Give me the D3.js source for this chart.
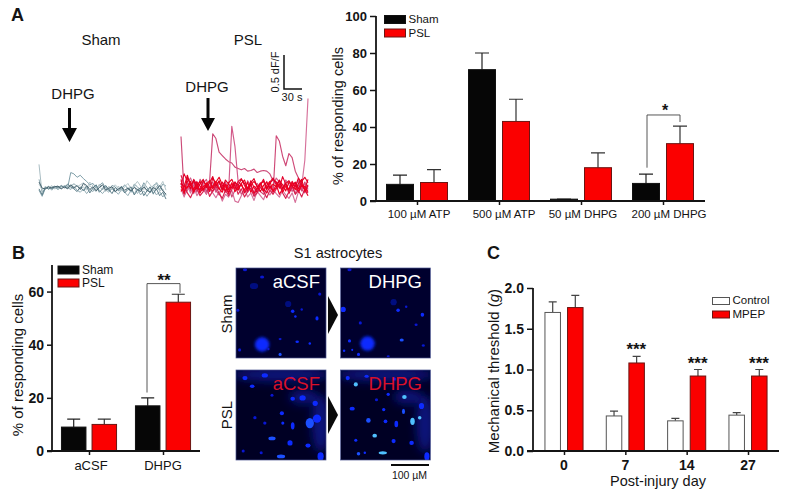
<!DOCTYPE html>
<html><head><meta charset="utf-8">
<script src="https://cdn.jsdelivr.net/npm/d3@7"></script>
<style>
html,body{margin:0;padding:0;background:#fff}
svg{display:block}
text{font-family:"Liberation Sans",Arial,sans-serif;fill:#141414}
</style></head><body><svg id="c" width="797" height="496"></svg>
<script>
// Panel A bars
const catsA=["100 µM ATP","500 µM ATP","50 µM DHPG","200 µM DHPG"];
const shamA=[9,71,1,9.5], shamATop=[14,80,1,14.5];
const pslA=[10,43,18,31], pslATop=[17,55,26,40.5];
const ticksA=[0,20,40,60,80,100];
// Panel B bars
const catsB=["aCSF","DHPG"];
const shamB=[9,17], shamBTop=[12,20];
const pslB=[10,56], pslBTop=[12,59];
const ticksB=[0,20,40,60];
// Panel C bars
const catsC=["0","7","14","27"];
const ctrlC=[1.70,0.43,0.37,0.44], ctrlCTop=[1.83,0.49,0.40,0.47];
const mpepC=[1.76,1.08,0.92,0.92], mpepCTop=[1.91,1.16,1.00,1.00];
const starsC=["","***","***","***"];
const ticksC=[0,0.5,1,1.5,2];
// Calcium traces, dF/F x 100, one sample per 5 s
const shamTraces=[
[34,-10,2,-3,1,-2,0,2,-1,1,3,5,2,-2,1,-4,3,-2,-6,1,-3,2,-5,-1,-7,2,-3,-8,0,-4,3,-9,-2,4,-6,-1,-10,2,-5,-2,-12],
[-4,-13,-1,1,-2,0,-3,1,2,-1,22,20,15,18,13,9,4,6,-1,3,7,-1,-4,3,1,-5,-2,4,-2,-7,5,1,-4,7,0,-8,3,6,-3,5,2],
[12,-6,-2,2,-4,1,2,-2,3,0,-3,2,-4,-7,-2,-9,-3,-6,2,-4,-9,-3,-7,-2,-5,-10,-3,-7,-12,-4,-9,-2,-11,-5,-13,-6,-3,-11,-6,-14,-8],
[5,-3,1,-1,3,-2,1,-1,2,3,-1,6,1,4,7,-2,8,2,-4,5,0,-6,2,-3,4,-1,-5,1,6,-2,3,9,2,-3,10,4,-2,8,1,9,-4],
[-2,-11,0,-2,0,2,-1,3,0,5,1,-2,-6,1,-5,2,-8,-1,4,-7,-2,3,-3,-9,0,-4,2,-8,-3,1,-11,-4,0,-12,-5,1,-9,-2,-12,-7,-17],
[8,-1,-2,1,-1,1,2,-2,1,-2,4,-1,3,-3,6,3,-3,1,-5,0,4,-4,-1,1,-6,-2,0,-4,-1,-5,0,-3,-6,1,-4,-7,0,-3,3,-5,-10]];
const pslTraces=[
[75,-9,6,-5,9,-7,12,3,-6,8,79,72,52,47,42,38,36,30,28,26,28,24,25,27,22,24,25,24,20,10,8,2,-4,5,-6,3,-9,4,-5,8,-3],
[10,-3,8,14,2,9,-5,6,12,-2,4,-7,6,1,8,-4,90,60,8,4,-6,10,2,-8,6,0,-5,9,-3,2,14,8,-2,11,4,-6,3,10,-4,6,1],
[6,-12,-4,3,-9,5,-6,-2,-10,2,8,-4,-11,3,-7,2,-14,-4,5,-10,-3,-7,4,-12,-3,-6,-10,-2,3,-8,76,68,46,32,50,44,24,14,-3,-8,2],
[-2,-14,3,-8,2,-12,-5,3,-9,-3,-8,-15,-6,-20,-10,-14,-4,-20,-22,-12,-3,-14,-8,-19,-6,-12,-18,-5,-11,-3,-9,-14,-4,-11,-16,-8,-22,-6,2,40,131],
[4,20,9,-2,12,4,-4,10,3,-6,14,5,-3,8,1,-9,6,-2,9,13,3,-5,10,0,-7,4,12,-1,6,12,8,-1,16,5,-3,9,1,14,5,-2,12],
[12,-6,1,6,-3,8,2,-5,7,0,-6,3,10,-4,4,-7,1,8,-2,6,-8,0,5,-9,-1,7,-3,-8,2,-5,4,-10,-2,6,-9,1,7,-7,3,-3,-12],
[18,4,-8,-15,-4,-1,-12,-6,2,-13,-5,2,-9,-16,-4,-12,-3,5,-10,-2,-14,-6,-1,-13,-8,1,-6,-15,-4,-10,-2,6,-8,-16,-6,1,-10,-4,-14,-2,-8],
[2,-9,14,6,-7,3,9,-3,4,10,-2,8,15,4,-5,7,12,1,-4,6,11,-2,4,9,2,-6,3,8,-1,5,1,10,4,-5,8,2,-3,6,12,-6,4],
[6,1,18,3,10,-2,5,12,0,7,16,2,9,-3,11,5,-1,8,3,12,6,-2,7,13,1,5,9,-3,8,14,4,11,-1,6,10,3,8,-2,9,15,7],
[-6,3,-1,9,-5,4,-8,1,6,-4,2,9,-2,-7,5,-3,7,-6,1,4,-4,8,-7,2,-2,6,-5,3,9,-6,0,5,-7,2,-3,7,-1,-5,4,1,-6]];
// Microscopy spots: [x%, y%, rx%, ry%, level]
const imgShamA=[[29,85,7,7,2],[63,48,1.7,1.7,2],[66,54,1.2,1.2,2],[2,47,1.5,1.5,1],[90,56,1.5,2,2],[68,82,1.7,1.2,2],[49,96,1.5,1.5,3],[82,84,1.2,1.2,2],[49,79,1.5,1,1],[4,91,1.5,1.5,1],[73,46,1.2,1.2,1],[93,29,1.5,1.5,1],[10,2,2,1.5,1],[29,10,2,1.5,1],[36,90,1.2,1.2,1],[58,40,3,3,0],[20,20,4,3,0]];
const imgShamD=[[30,84,7,7,2],[3,46,2.5,2.5,2],[64,47,1.7,1.7,2],[91,52,1.7,2,2],[68,80,2,1.5,3],[22,61,1.5,1.5,1],[10,81,1.5,1.5,2],[4,92,1.2,1.2,2],[20,96,1.5,1.5,2],[13,91,1,1,2],[84,63,1.5,1.2,1],[73,43,1.2,1.2,1],[59,38,3,3,0],[53,98,1.5,1,1],[92,86,1.5,1.2,1],[10,2,2,1.5,1]];
const imgPslA=[[10,9,2.5,2,2],[32,6,3,2,2],[18,18,2.2,1.7,2],[63,32,2.2,2,2],[74,31,3,2.5,2],[51,48,2,2,2],[63,62,1.8,3.5,2],[40,76,3.5,1.8,3],[60,81,2.5,2.5,2],[82,59,4,5,3],[90,54,4,4,2],[50,96,4,1.8,3],[80,84,2.5,2,2],[21,53,1.6,1.6,1],[32,59,1.6,1.6,1],[52,59,1.5,1.5,2],[88,37,2.5,2.5,2],[94,96,3,4,2],[40,28,1.5,1.5,1],[62,9,2,1.5,1],[8,90,1.5,1.5,1],[28,92,1.5,1.5,1]];
const imgPslD=[[17,16,2,2,4],[8,9,2,2,2],[71,30,2.2,2,4],[13,43,2.5,1.8,2],[31,56,2.2,2.2,3],[50,57,1.8,1.8,2],[38,73,2.2,1.8,4],[62,60,1.8,3.2,2],[70,46,1.5,2.5,3],[80,57,2.2,3.5,4],[88,53,1.7,1.7,4],[59,79,2,2,2],[79,81,2.2,2,2],[47,92,4,1.6,4],[20,93,1.7,1.7,3],[27,92,1.2,1.2,2],[53,27,1.6,1.6,2],[29,7,2,1.5,2],[48,44,1.6,1.6,2],[17,78,1.5,1.5,2],[90,40,2.5,3,2],[96,96,2.5,4,2],[40,33,1.5,1.5,1],[60,10,2,1.5,1]];
const hazePsl=[[50,5,55,8],[94,60,10,32],[75,30,16,8]];

const svg=d3.select("#c");
const RED="#fb0000",RIM="#6b1512",INK="#141414";
const defs=svg.append("defs");
[["b02",0.35],["b05",0.6],["b1",1.8],["b5",5]].forEach(([id,s])=>{
  defs.append("filter").attr("id",id).attr("x","-60%").attr("y","-60%").attr("width","220%").attr("height","220%")
    .append("feGaussianBlur").attr("stdDeviation",s);
});
function label(x,y,t,size,opt={}){
  const s=svg.append("text").attr("x",x).attr("y",y).attr("font-size",size).text(t)
    .attr("text-anchor",opt.anchor||"middle");
  if(opt.bold)s.attr("font-weight","bold");
  if(opt.fill)s.style("fill",opt.fill);
  if(opt.rot)s.attr("transform",`rotate(-90,${x},${y})`);
  return s;
}
function barPanel(o){
  const g=svg.append("g");
  const y=d3.scaleLinear().domain(o.dom).range(o.yr);
  const x=d3.scalePoint().domain(o.cats).range(o.xr);
  const yAxis=d3.axisLeft(y).tickValues(o.ticks).tickSize(o.tl).tickFormat(o.fmt);
  const xAxis=d3.axisBottom(x).tickSize(4).tickFormat("");
  const bars=(vals,tops,off,fill,stroke,err)=>{
    o.cats.forEach((c,i)=>{
      const cx=x(c)+off;
      g.append("path").attr("d",`M${cx},${y(vals[i])}V${y(tops[i])}M${cx-o.cap},${y(tops[i])}H${cx+o.cap}`)
        .attr("stroke",err).attr("stroke-width",1.2).attr("fill","none");
      g.append("rect").attr("x",cx-o.bw/2).attr("width",o.bw).attr("y",y(vals[i])).attr("height",y(0)-y(vals[i]))
        .attr("fill",fill).attr("stroke",stroke).attr("stroke-width",1);
    });
  };
  bars(o.a,o.aTop,-o.off,o.aFill,o.aRim,o.aErr);
  bars(o.b,o.bTop,o.off,RED,RIM,o.bErr);
  const ga=g.append("g").attr("transform",`translate(${o.xAxisX},0)`).call(yAxis);
  const gb=g.append("g").attr("transform",`translate(0,${y(0)})`).call(xAxis);
  ga.select(".domain").attr("d",`M0,${o.yr[1]}V${y(0)+1}`);
  gb.select(".domain").attr("d",`M${o.axL},0H${o.axR}`);
  [ga,gb].forEach(s=>{s.selectAll(".domain").attr("stroke",INK).attr("stroke-width",1.8);
    s.selectAll("line").attr("stroke",INK).attr("stroke-width",1.5);});
  ga.selectAll("text").attr("font-size",o.tickSize).attr("font-weight","bold").style("font-family",'"Liberation Sans"').style("fill",INK);
  return {x,y};
}
function legend(x,y1,y2,h,w,names,fills,rims,size){
  [y1,y2].forEach((yy,i)=>{
    svg.append("rect").attr("x",x).attr("y",yy).attr("width",w).attr("height",h).attr("fill",fills[i]).attr("stroke",rims[i]);
    label(x+w+3,yy+h-0.5,names[i],size,{anchor:"start"});
  });
}
function bracket(x1,x2,yl,yt,yr){
  svg.append("path").attr("d",`M${x1},${yl}V${yt}H${x2}V${yr}`).attr("fill","none").attr("stroke","#444").attr("stroke-width",0.9);
}

// ---- Panel A bars
const A=barPanel({dom:[0,100],yr:[201,16],xr:[417,663],cats:catsA,ticks:ticksA,tl:6,tickSize:13,fmt:d=>d,
  a:shamA,aTop:shamATop,b:pslA,bTop:pslATop,aFill:"#060606",aRim:"#111",aErr:"#222",bErr:"#333",
  bw:27,off:17,cap:7,xAxisX:376,axL:370,axR:705});
const shiftA=[2,5,2,6];
catsA.forEach((c,i)=>label(A.x(c)+shiftA[i],218,c,11.5));
label(343,116,"% of responding cells",14.5,{rot:true});
legend(384.5,15.5,29,8,21,["Sham","PSL"],["#060606",RED],["#111",RIM],11.5);
bracket(A.x(catsA[3])-16,A.x(catsA[3])+17,A.y(18),A.y(46.5),A.y(42.7));
label(665,116,"*",16,{bold:true});

// ---- Panel B bars
const B=barPanel({dom:[0,70],yr:[451,265],xr:[89,163],cats:catsB,ticks:ticksB,tl:5,tickSize:14,fmt:d=>d,
  a:shamB,aTop:shamBTop,b:pslB,bTop:pslBTop,aFill:"#060606",aRim:"#111",aErr:"#222",bErr:"#333",
  bw:24.5,off:15.3,cap:6.5,xAxisX:52,axL:47,axR:200});
catsB.forEach(c=>label(B.x(c)+(c==="aCSF"?2:0),470,c,13));
label(23,365,"% of responding cells",15,{rot:true});
legend(58,266,279,8,21,["Sham","PSL"],["#060606",RED],["#111",RIM],12);
bracket(147,180,B.y(22),B.y(63),B.y(59.5));
label(164,286,"**",17,{bold:true});

// ---- Panel C bars
const C=barPanel({dom:[0,2],yr:[451,288],xr:[564,748],cats:catsC,ticks:ticksC,tl:6,tickSize:14,fmt:d3.format(".1f"),
  a:ctrlC,aTop:ctrlCTop,b:mpepC,bTop:mpepCTop,aFill:"#fff",aRim:"#555",aErr:"#444",bErr:"#444",
  bw:15.5,off:11.3,cap:4,xAxisX:533,axL:527,axR:779});
catsC.forEach(c=>label(C.x(c),470,c,14,{bold:true}));
label(658,486,"Post-injury day",14.5);
const yl=label(499,371,"",15,{rot:true});
yl.append("tspan").text("Mechanical threshold (");
yl.append("tspan").attr("font-style","italic").text("g");
yl.append("tspan").text(")");
legend(712.5,297.5,311,7,17,["Control","MPEP"],["#fff",RED],["#555",RIM],11.5);
catsC.forEach((c,i)=>label(C.x(c)+11,C.y(mpepCTop[i])-1,starsC[i],17,{bold:true}));

// ---- Traces
const tX=d3.scaleLinear().domain([0,200]);
const tY=d3.scaleLinear().domain([0,0.5]).range([187.5,153.5]);
function drawTraces(data,x0,colors,w){
  const xs=tX.copy().range([x0,x0+127]);
  const line=d3.line().x((d,i)=>xs(i*5)).y(d=>tY(d/100)).curve(d3.curveLinear);
  const g=svg.append("g").attr("filter","url(#b02)");
  data.forEach((t,i)=>g.append("path").attr("d",line(t)).attr("fill","none")
    .attr("stroke",colors[i%colors.length]).attr("stroke-width",w).attr("stroke-linejoin","round"));
}
drawTraces(shamTraces,39,["#a8bcc2","#7f9ea8","#94adb5","#b5c6ca","#5f7f8a","#46626e"],1);
drawTraces(pslTraces,181,["#cc4a78","#d25a8a","#cf4a78","#d6709a","#e3002c","#ea0028","#d8204f","#e8001e","#e00024","#f00020"],1.15);

label(101,45,"Sham",15);
label(248,45,"PSL",15);
label(73,99,"DHPG",15);
label(207,92,"DHPG",15);
function arrow(x,y0,y1,yTip,hw){
  svg.append("path").attr("d",`M${x-1.5},${y0}H${x+1.5}V${y1}H${x+hw}L${x},${yTip}L${x-hw},${y1}H${x-1.5}Z`).attr("fill","#050505");
}
arrow(69.5,108,128,142,7.5);
arrow(208,98,118,131,7);
svg.append("path").attr("d","M284,55V89H302").attr("fill","none").attr("stroke","#111").attr("stroke-width",1.5);
label(279,72,"0.5 dF/F",11,{rot:true});
label(292,101,"30 s",11);

// ---- Micrographs
const pct=d3.scaleLinear().domain([0,100]).range([0,90]);
const spotColor=["#060f80","#0818d0","#0c2cff","#1a50ff","#50c0ff"];
function micro(id,x,y,spots,haze,base,txt,col){
  const cp=defs.append("clipPath").attr("id",id);
  cp.append("rect").attr("width",90).attr("height",90);
  const g=svg.append("g").attr("transform",`translate(${x},${y})`);
  const inner=g.append("g").attr("clip-path",`url(#${id})`);
  inner.append("rect").attr("width",90).attr("height",90).attr("fill",base);
  if(haze){
    const hz=inner.append("g").attr("filter","url(#b5)");
    haze.forEach(h=>hz.append("ellipse").attr("cx",pct(h[0])).attr("cy",pct(h[1])).attr("rx",pct(h[2])).attr("ry",pct(h[3])).attr("fill","#0a18a0").attr("opacity",0.7));
  }
  const sg=inner.append("g").attr("filter","url(#b05)");
  spots.forEach(s=>{
    const big=s[2]>6;
    const e=sg.append("ellipse").attr("cx",pct(s[0])).attr("cy",pct(s[1])).attr("rx",pct(s[2])*1.15).attr("ry",pct(s[3])*1.15).attr("fill",spotColor[s[4]]);
    if(big){e.attr("filter","url(#b1)");}
  });
  g.append("rect").attr("width",90).attr("height",90).attr("fill","none").attr("stroke","#4a5590").attr("stroke-width",0.7);
  label(x+(txt==="aCSF"?84:81.5),y+20,txt,18.5,{anchor:"end",fill:col});
}
micro("m1",236,268,imgShamA,null,"#00002e","aCSF","#fff");
micro("m2",340.5,268,imgShamD,null,"#00002e","DHPG","#fff");
micro("m3",236,370,imgPslA,hazePsl,"#000024","aCSF","#d8102a");
micro("m4",340.5,370,imgPslD,hazePsl,"#000024","DHPG","#d8102a");
[[296,334],[396,434]].forEach(([a,b])=>svg.append("path").attr("d",`M328,${a}L338,${(a+b)/2}L328,${b}Z`).attr("fill","#0a0a0a"));
label(338,258,"S1 astrocytes",14.6);
label(232,314,"Sham",15,{rot:true});
label(232,415,"PSL",15,{rot:true});
svg.append("rect").attr("x",391).attr("y",464).attr("width",38).attr("height",2).attr("fill","#0a0a0a");
label(409.5,479,"100 µM",10.5);

// ---- Panel letters
label(11,21,"A",18,{anchor:"start",bold:true});
label(12,259,"B",18,{anchor:"start",bold:true});
label(487,259,"C",18,{anchor:"start",bold:true});
</script></body></html>
